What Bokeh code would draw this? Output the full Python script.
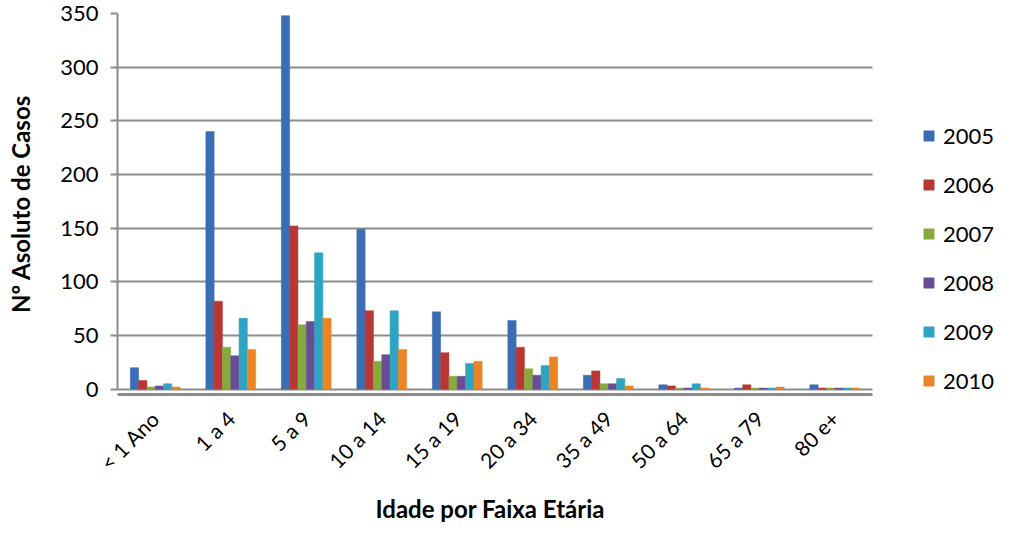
from math import pi
from bokeh.plotting import figure
from bokeh.models import ColumnDataSource, Legend, LegendItem, Range1d, SingleIntervalTicker, FixedTicker, Title
from bokeh.transform import dodge
from bokeh.embed import file_html
from bokeh.resources import INLINE

categories = ["< 1 Ano", "1 a 4", "5 a 9", "10 a 14", "15 a 19", "20 a 34", "35 a 49", "50 a 64", "65 a 79", "80 e+"]
years = ["2005", "2006", "2007", "2008", "2009", "2010"]
v2005 = [20, 240, 348, 149, 72, 64, 13, 4, 1, 4]
v2006 = [8, 82, 152, 73, 34, 39, 17, 3, 4, 1]
v2007 = [2, 39, 60, 26, 12, 19, 5, 1, 1, 1]
v2008 = [3, 31, 63, 32, 12, 13, 5, 1, 1, 1]
v2009 = [5, 66, 127, 73, 24, 22, 10, 5, 1, 1]
v2010 = [2, 37, 66, 37, 26, 30, 3, 1, 2, 1]
colors = ["#3B6DB3", "#B83634", "#86AA3E", "#6A4C96", "#2FA3C2", "#EA8424"]

series = [v2005, v2006, v2007, v2008, v2009, v2010]
ncat = len(categories)
centers = [i + 0.5 for i in range(ncat)]
data = {"xc": centers}
for y, s in zip(years, series):
    data["y" + y] = s
src = ColumnDataSource(data)

FONT = "Lato"
GRAY = "#8C8C8C"

W, H = 1000, 539
LEFT = 117
CAT_PX = 75.5
p = figure(width=W, height=H, x_range=Range1d(0, (W - LEFT) / CAT_PX), y_range=Range1d(-5, 350),
           output_backend="svg", toolbar_location=None,
           min_border_left=LEFT, min_border_right=0, min_border_top=13, min_border_bottom=145)
p.outline_line_color = None

bw = 0.11
offsets = [-0.275, -0.165, -0.055, 0.055, 0.165, 0.275]
items = []
for y, c, off in zip(years, colors, offsets):
    r = p.vbar(x=dodge("xc", off), top="y" + y, width=bw, source=src,
               fill_color=c, line_color=c, line_width=0.5)
    items.append(LegendItem(label=y, renderers=[r]))

legend = Legend(items=items, location=(805, 0), orientation="vertical",
                glyph_width=13, glyph_height=13, label_height=26, spacing=22, padding=0, margin=0,
                label_text_font=FONT, label_text_font_size="22px", label_standoff=8,
                label_text_color="black",
                border_line_alpha=0, background_fill_alpha=0)
p.add_layout(legend, "center")

p.yaxis.ticker = SingleIntervalTicker(interval=50)
p.yaxis.bounds = (0, 350)
p.ygrid.grid_line_color = GRAY
p.ygrid.grid_line_width = 2
p.ygrid.cross_bounds = (0, ncat)
p.xgrid.grid_line_color = None

p.yaxis.axis_line_color = GRAY
p.yaxis.axis_line_width = 2
p.yaxis.major_tick_line_color = GRAY
p.yaxis.major_tick_line_width = 2
p.yaxis.major_tick_out = 7
p.yaxis.major_tick_in = 0
p.yaxis.minor_tick_line_color = None
p.yaxis.major_label_text_font = FONT
p.yaxis.major_label_text_font_size = "22px"
p.yaxis.major_label_text_color = "black"
p.yaxis.major_label_standoff = 12
p.yaxis.axis_label = "Nº Asoluto de Casos"
p.yaxis.axis_label_text_font = FONT
p.yaxis.axis_label_text_font_size = "24px"
p.yaxis.axis_label_text_font_style = "bold"
p.yaxis.axis_label_text_color = "black"
p.yaxis.axis_label_standoff = 22

p.xaxis.ticker = FixedTicker(ticks=centers)
p.xaxis.major_label_overrides = {c: lab for c, lab in zip(centers, categories)}
p.xaxis.bounds = (0, ncat)
p.xaxis.axis_line_color = GRAY
p.xaxis.axis_line_width = 3
p.xaxis.major_tick_line_color = None
p.xaxis.minor_tick_line_color = None
p.xaxis.major_label_orientation = pi / 4
p.xaxis.major_label_text_font = FONT
p.xaxis.major_label_text_font_size = "21px"
p.xaxis.major_label_text_color = "black"
p.xaxis.major_label_standoff = 14

xtitle = Title(text="Idade por Faixa Etária", align="left", offset=258, standoff=10,
               vertical_align="bottom",
               text_font=FONT, text_font_size="24px", text_font_style="bold", text_color="black")
p.add_layout(xtitle, "below")

open("out.html", "w").write(file_html(p, INLINE))
